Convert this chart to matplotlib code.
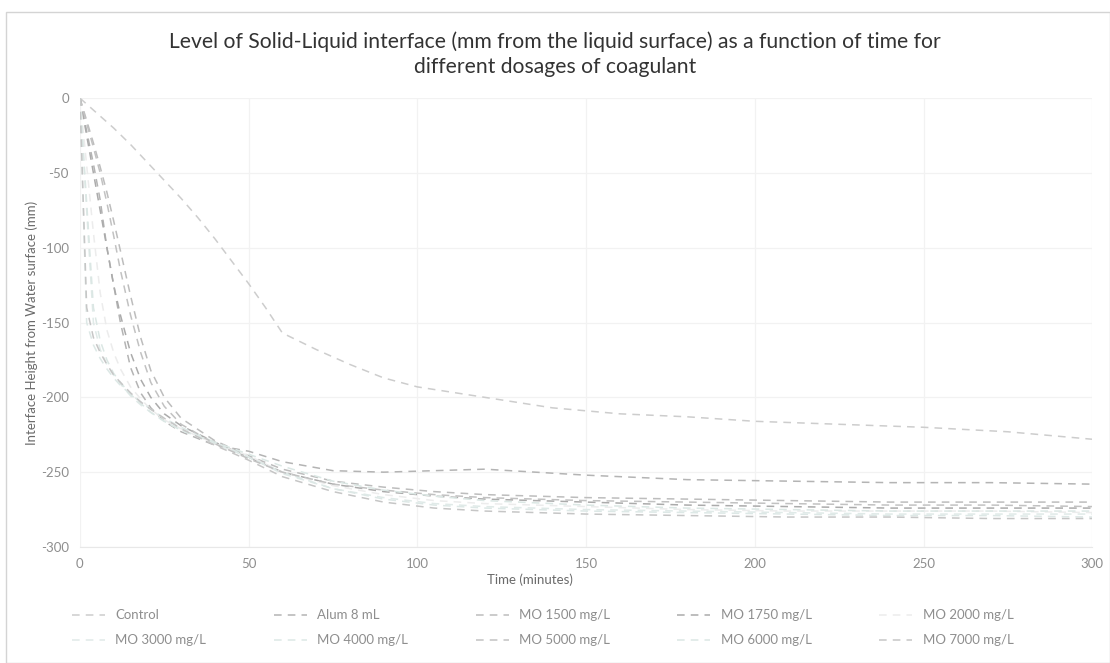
import matplotlib
matplotlib.use("Agg")
import matplotlib.pyplot as plt
from matplotlib.patches import Rectangle

plt.rcParams['font.family'] = ['Lato', 'DejaVu Sans']
plt.rcParams['axes.unicode_minus'] = False

# settling data: interface height (mm below liquid surface) vs time (min)
t_control = [0, 5, 10, 15, 20, 25, 30, 35, 40, 45, 50, 55, 60, 70, 80, 90,
             100, 120, 140, 160, 180, 200, 225, 250, 275, 300]
y_control = [0, -10, -20, -31, -43, -55, -67, -80, -94, -109, -124, -140, -157,
             -168, -178, -187, -193, -200, -207, -211, -213, -216, -218, -220,
             -223, -228]

t_dose = [0, 2, 4, 6, 8, 10, 12, 15, 18, 21, 25, 30, 40, 50, 60, 75, 90, 105,
          120, 150, 180, 210, 240, 270, 300]
y_alum = [0, -22, -44, -68, -100, -125, -150, -180, -197, -207, -216, -223,
          -232, -236, -243, -249, -250, -249, -248, -252, -255, -256, -257,
          -257, -258]
y_mo1500 = [0, -15, -30, -46, -63, -82, -102, -132, -160, -182, -200, -214,
            -229, -239, -248, -256, -260, -263, -265, -267, -268, -269, -270,
            -270, -270]
y_mo1750 = [0, -25, -50, -75, -100, -125, -145, -170, -188, -200, -211, -219,
            -230, -240, -250, -258, -263, -266, -268, -270, -272, -273, -274,
            -274, -274]
y_mo2000 = [0, -45, -90, -130, -155, -170, -181, -193, -201, -208, -215, -221,
            -231, -239, -250, -259, -265, -269, -271, -273, -275, -276, -276,
            -276, -277]
y_mo3000 = [0, -75, -150, -168, -178, -185, -191, -199, -205, -210, -216, -222,
            -231, -240, -251, -261, -267, -271, -273, -275, -276, -277, -278,
            -278, -278]
y_mo4000 = [0, -150, -165, -174, -181, -187, -192, -198, -203, -208, -214,
            -220, -230, -240, -250, -261, -268, -272, -274, -276, -277, -278,
            -279, -279, -280]
y_mo5000 = [0, -17, -33, -50, -70, -92, -115, -145, -170, -190, -206, -218,
            -231, -241, -250, -258, -262, -265, -267, -269, -270, -271, -272,
            -272, -273]
y_mo6000 = [0, -70, -140, -162, -175, -184, -190, -198, -204, -210, -216, -222,
            -230, -238, -246, -256, -262, -266, -269, -272, -274, -275, -276,
            -276, -276]
y_mo7000 = [0, -140, -160, -170, -178, -185, -190, -197, -203, -208, -214,
            -221, -232, -242, -253, -263, -270, -274, -276, -278, -279, -280,
            -280, -281, -281]

labels = ['Control', 'Alum 8 mL', 'MO 1500 mg/L', 'MO 1750 mg/L', 'MO 2000 mg/L',
          'MO 3000 mg/L', 'MO 4000 mg/L', 'MO 5000 mg/L', 'MO 6000 mg/L',
          'MO 7000 mg/L']
series = [(t_control, y_control), (t_dose, y_alum), (t_dose, y_mo1500),
          (t_dose, y_mo1750), (t_dose, y_mo2000), (t_dose, y_mo3000),
          (t_dose, y_mo4000), (t_dose, y_mo5000), (t_dose, y_mo6000),
          (t_dose, y_mo7000)]
colors = ['#cdcdcd', '#b4b4b4', '#bdbdbd', '#ababab', '#ececec',
          '#e0eae8', '#dde8e6', '#c2c2c2', '#dbe7e4', '#c6c6c6']

fig = plt.figure(figsize=(11.1, 6.63), dpi=100)
ax = fig.add_axes([0.072, 0.175, 0.912, 0.677])

handles = []
for (t, y), lab, c in zip(series, labels, colors):
    h, = ax.plot(t, y, color=c, lw=1.1, dashes=(5, 4), label=lab)
    handles.append(h)

ax.set_xlim(0, 300)
ax.set_ylim(-300, 0)
ax.set_xticks(range(0, 301, 50))
ax.set_yticks(range(-300, 1, 50))
ax.grid(True, color='#f2f2f2', lw=0.9)
ax.set_axisbelow(True)
for s in ['top', 'right', 'left']:
    ax.spines[s].set_visible(False)
ax.spines['bottom'].set_color('#e8e8e8')
ax.tick_params(length=0, colors='#8e8e8e', labelsize=9.5, pad=8)

ax.set_xlabel('Time (minutes)', fontsize=9.5, color='#6a6a6a')
ax.xaxis.set_label_coords(0.445, -0.058)
ax.set_ylabel('Interface Height from Water surface (mm)', fontsize=9.5,
              color='#6a6a6a', labelpad=2)

fig.text(0.5, 0.918, 'Level of Solid-Liquid interface (mm from the liquid surface) as a function of time for\ndifferent dosages of coagulant',
         ha='center', va='center', fontsize=15.2, color='#333333', linespacing=1.35)

# legend filled row by row (matplotlib fills column-wise)
order = [0, 5, 1, 6, 2, 7, 3, 8, 4, 9]
fig.legend([handles[i] for i in order], [labels[i] for i in order],
           loc='lower left', bbox_to_anchor=(0.054, 0.007, 0.87, 0.08),
           mode='expand', ncol=5, frameon=False, fontsize=9.5,
           labelcolor='#8e8e8e', handlelength=2.5, handletextpad=0.8,
           labelspacing=1.0)

# outer chart border
fig.patches.append(Rectangle((0.005, 0.0), 0.995, 0.982, transform=fig.transFigure,
                             fill=False, edgecolor='#d4d4d4', lw=1.0))

fig.savefig('out.png', dpi=100, facecolor='white')
